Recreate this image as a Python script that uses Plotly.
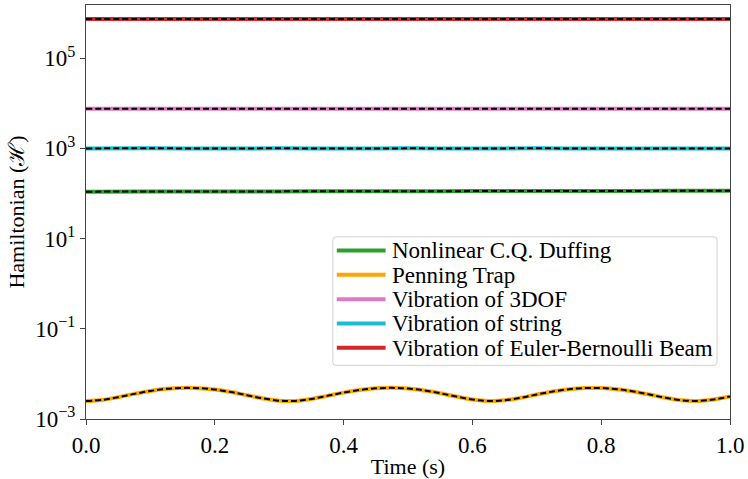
import plotly.graph_objects as go

# ---- data ----
t_fine = [0.0, 0.025, 0.05, 0.075, 0.1, 0.125, 0.15, 0.175, 0.2, 0.225,
          0.25, 0.275, 0.3, 0.325, 0.35, 0.375, 0.4, 0.425, 0.45, 0.475,
          0.5, 0.525, 0.55, 0.575, 0.6, 0.625, 0.65, 0.675, 0.7, 0.725,
          0.75, 0.775, 0.8, 0.825, 0.85, 0.875, 0.9, 0.925, 0.95, 0.975, 1.0]
penning = [2.50e-3, 2.65e-3, 3.05e-3, 3.61e-3, 4.19e-3, 4.66e-3, 4.89e-3, 4.83e-3, 4.49e-3, 3.97e-3,
           3.37e-3, 2.86e-3, 2.55e-3, 2.52e-3, 2.78e-3, 3.26e-3, 3.85e-3, 4.40e-3, 4.78e-3, 4.90e-3,
           4.72e-3, 4.30e-3, 3.73e-3, 3.15e-3, 2.71e-3, 2.51e-3, 2.60e-3, 2.95e-3, 3.49e-3, 4.08e-3,
           4.58e-3, 4.86e-3, 4.86e-3, 4.58e-3, 4.08e-3, 3.49e-3, 2.95e-3, 2.60e-3, 2.51e-3, 2.71e-3, 3.15e-3]

t_coarse = [0.0, 0.1, 0.2, 0.3, 0.4, 0.5, 0.6, 0.7, 0.8, 0.9, 1.0]
duffing = [110, 110.5, 111, 111.5, 112, 112.5, 113, 113.5, 114, 114.5, 115]
dof3 = [7600, 7600, 7600, 7600, 7600, 7600, 7600, 7600, 7600, 7600, 7600]
string = [1000, 1004, 997, 1003, 996, 1002, 998, 1004, 996, 1001, 998]
euler = [7.4e5, 7.4e5, 7.4e5, 7.4e5, 7.4e5, 7.4e5, 7.4e5, 7.4e5, 7.4e5, 7.4e5, 7.4e5]

names = ["Nonlinear C.Q. Duffing", "Penning Trap", "Vibration of 3DOF",
         "Vibration of string", "Vibration of Euler-Bernoulli Beam"]
colors = ["#2ca02c", "#FFA500", "#e377c2", "#17becf", "#d62728"]
series_t = [t_coarse, t_fine, t_coarse, t_coarse, t_coarse]
series_y = [duffing, penning, dof3, string, euler]

ytick_vals = [1e-3, 1e-1, 1e1, 1e3, 1e5]
ytick_text = ["10<sup>\u22123</sup>", "10<sup>\u22121</sup>", "10<sup>1</sup>",
              "10<sup>3</sup>", "10<sup>5</sup>"]
xtick_vals = [0.0, 0.2, 0.4, 0.6, 0.8, 1.0]
xtick_text = ["0.0", "0.2", "0.4", "0.6", "0.8", "1.0"]

font = "Liberation Serif, Times New Roman, serif"

fig = go.Figure()
for n, c, tx, ty in zip(names, colors, series_t, series_y):
    fig.add_trace(go.Scatter(x=tx, y=ty, mode="lines", name=n, showlegend=False,
                             line=dict(color=c, width=4, shape="spline")))
for tx, ty in zip(series_t, series_y):
    fig.add_trace(go.Scatter(x=tx, y=ty, mode="lines", showlegend=False,
                             line=dict(color="black", width=2, dash="6px,3px", shape="spline")))

axis_common = dict(showline=True, linecolor="#444", linewidth=1, mirror=True,
                   ticks="outside", ticklen=5, tickcolor="#444", showgrid=False,
                   zeroline=False, tickfont=dict(family=font, size=23, color="black"))

# ---- legend (drawn in paper coordinates, matplotlib style) ----
W_PLOT, H_PLOT, LEFT, BOTTOM = 647.0, 419.0, 86.0, 423.3
def px(xp): return (xp - LEFT) / W_PLOT
def py(yp): return (BOTTOM - yp) / H_PLOT

bx0, bx1, by0, by1 = px(334), px(720), py(369), py(239)
rx, ry = 3 / W_PLOT, 3 / H_PLOT
box_path = (f"M {bx0+rx},{by1} L {bx1-rx},{by1} Q {bx1},{by1} {bx1},{by1-ry} "
            f"L {bx1},{by0+ry} Q {bx1},{by0} {bx1-rx},{by0} "
            f"L {bx0+rx},{by0} Q {bx0},{by0} {bx0},{by0+ry} "
            f"L {bx0},{by1-ry} Q {bx0},{by1} {bx0+rx},{by1} Z")
shapes = [dict(type="path", path=box_path, xref="paper", yref="paper",
               line=dict(color="#d0d0d0", width=1), fillcolor="rgba(255,255,255,0.8)",
               layer="above")]
annotations = []
for i, (n, c) in enumerate(zip(names, colors)):
    yrow = 252.7 + 24.65 * i
    shapes.append(dict(type="line", xref="paper", yref="paper",
                       x0=px(338), x1=px(387), y0=py(yrow), y1=py(yrow),
                       line=dict(color=c, width=4), layer="above"))
    annotations.append(dict(x=px(391), y=py(yrow + 0.5), xref="paper", yref="paper",
                            text=n, showarrow=False, xanchor="left", yanchor="middle",
                            font=dict(family=font, size=23, color="black")))

fig.update_layout(
    width=748, height=479,
    margin=dict(l=86, r=15, t=4, b=56),
    plot_bgcolor="white", paper_bgcolor="white",
    font=dict(family=font, size=22, color="black"),
    showlegend=False,
    xaxis=dict(range=[0, 1], tickvals=xtick_vals, ticktext=xtick_text,
               title=dict(text="Time (s)", font=dict(family=font, size=22), standoff=2),
               **axis_common),
    yaxis=dict(type="log", range=[-3, 6.18], tickvals=ytick_vals, ticktext=ytick_text,
               title=dict(text="Hamiltonian (\u210B)", font=dict(family=font, size=22), standoff=4),
               **axis_common),
    shapes=shapes,
    annotations=annotations,
)

fig.write_html("out.html")
